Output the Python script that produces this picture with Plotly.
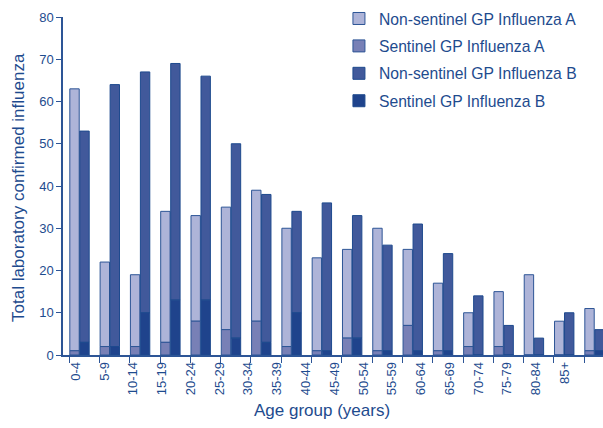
import numpy as np
import plotly.graph_objects as go

ages = ["0-4", "5-9", "10-14", "15-19", "20-24", "25-29", "30-34", "35-39", "40-44",
        "45-49", "50-54", "55-59", "60-64", "65-69", "70-74", "75-79", "80-84", "85+"]
# totals and sentinel components
total_a = [63, 22, 19, 34, 33, 35, 39, 30, 23, 25, 30, 25, 17, 10, 15, 19, 8, 11]
sent_a = [1, 2, 2, 3, 8, 6, 8, 2, 1, 4, 1, 7, 1, 2, 2, 0, 0, 1]
total_b = [53, 64, 67, 69, 66, 50, 38, 34, 36, 33, 26, 31, 24, 14, 7, 4, 10, 6]
sent_b = [3, 2, 10, 13, 13, 4, 3, 10, 1, 4, 1, 1, 1, 0, 0, 0, 0, 1]
nonsent_a = [t - s for t, s in zip(total_a, sent_a)]
nonsent_b = [t - s for t, s in zip(total_b, sent_b)]

x = np.arange(len(ages))
TXT = "#1E4B8E"
EDGE = "#1E4A8E"
W = 0.31
xa = x - 0.165
xb = x + 0.165
# tick labels in the original drift slightly left of their bar pairs
label_pos = x - 0.13 - 0.05 * x

fig = go.Figure()
fig.add_trace(go.Bar(x=xa, y=nonsent_a, base=sent_a, width=W, name="Non-sentinel GP Influenza A",
                     marker=dict(color="#AEB4D8", line=dict(color="#2D5596", width=1)),
                     legendgroup="1"))
fig.add_trace(go.Bar(x=xa, y=sent_a, width=W, name="Sentinel GP Influenza A",
                     marker=dict(color="#7880B6", line=dict(color="#2D5596", width=1)),
                     legendgroup="2"))
fig.add_trace(go.Bar(x=xb, y=nonsent_b, base=sent_b, width=W, name="Non-sentinel GP Influenza B",
                     marker=dict(color="#41599B", line=dict(color=EDGE, width=1)),
                     legendgroup="3"))
fig.add_trace(go.Bar(x=xb, y=sent_b, width=W, name="Sentinel GP Influenza B",
                     marker=dict(color="#1F438C", line=dict(color=EDGE, width=1)),
                     legendgroup="4"))

fig.update_layout(
    width=603, height=428,
    margin=dict(l=63, r=0, t=17, b=73, autoexpand=False),
    barmode="overlay",
    plot_bgcolor="white", paper_bgcolor="white",
    font=dict(family="Liberation Sans, Arial, sans-serif", color=TXT, size=13),
    showlegend=True,
    legend=dict(x=0.511, y=1.045, xanchor="left", yanchor="top",
                font=dict(size=15.7, color=TXT), bgcolor="rgba(0,0,0,0)",
                traceorder="grouped", tracegroupgap=4, itemwidth=30),
    xaxis=dict(range=[-0.545, 17.28], tickmode="array", tickvals=label_pos, ticktext=ages,
               tickangle=-90, ticks="", showgrid=False, zeroline=False, automargin=False,
               showline=True, linecolor="#2D5596", linewidth=1.5,
               tickfont=dict(size=13, color=TXT),
               minor=dict(tickmode="linear", tick0=-0.34, dtick=1, ticks="outside",
                          ticklen=6, tickcolor="#2D5596", tickwidth=1.2, showgrid=False)),
    yaxis=dict(range=[0, 80], tickmode="linear", tick0=0, dtick=10, ticks="outside",
               ticklen=5, tickcolor="#2D5596", showgrid=False, zeroline=False, automargin=False,
               showline=True, linecolor="#2D5596", linewidth=1.5,
               tickfont=dict(size=13, color=TXT)),
    annotations=[
        dict(text="Age group (years)", xref="paper", yref="paper",
             x=(322 - 63) / 540, y=-(410 - 355) / 338, xanchor="center", yanchor="middle",
             showarrow=False, font=dict(size=17, color=TXT)),
        dict(text="Total laboratory confirmed influenza", xref="paper", yref="paper",
             x=-(63 - 18) / 540, y=(355 - 188) / 338, xanchor="center", yanchor="middle",
             textangle=-90, showarrow=False, font=dict(size=17, color=TXT)),
    ],
)

fig.write_html("out.html", config={"displayModeBar": False},
               post_script="document.body.style.margin='0';")
